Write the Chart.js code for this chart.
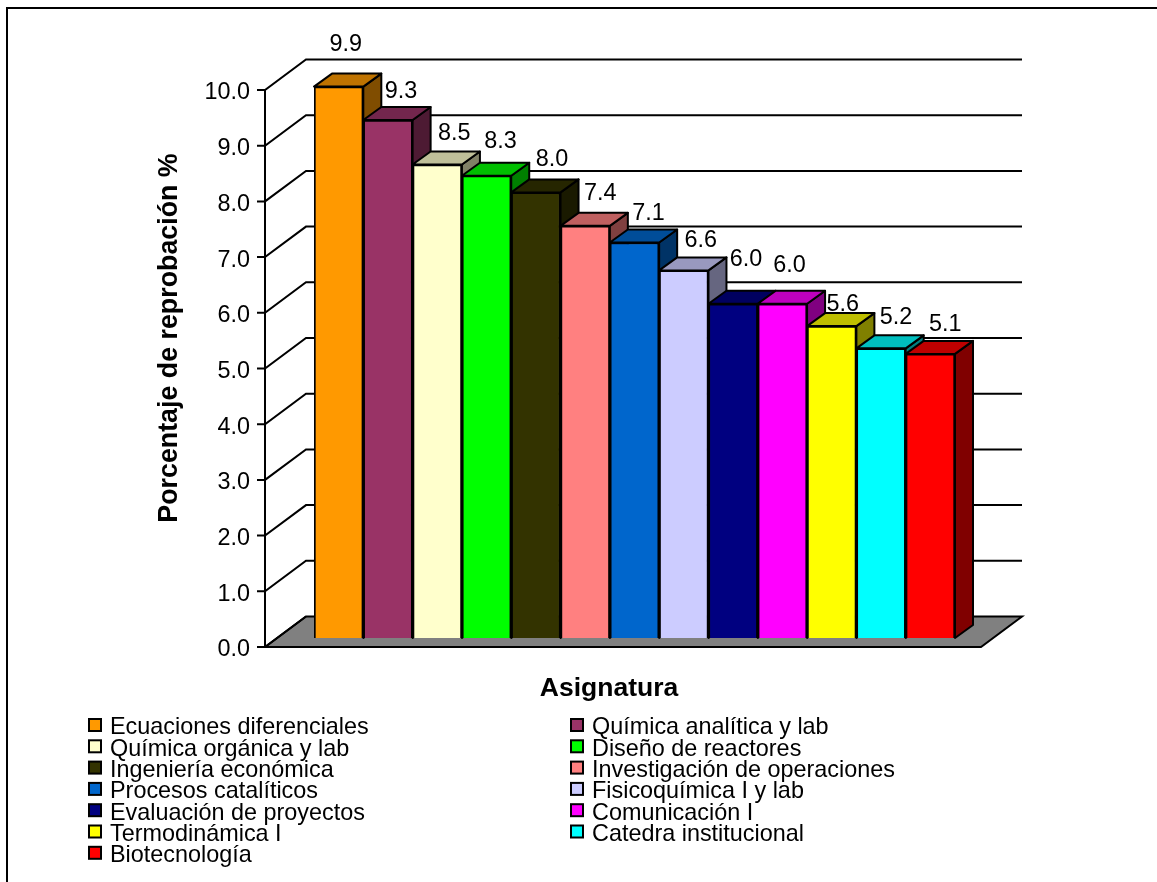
<!DOCTYPE html>
<html lang="es">
<head>
<meta charset="utf-8">
<title>Porcentaje de reprobación por asignatura</title>
<script src="https://cdn.jsdelivr.net/npm/chart.js@4/dist/chart.umd.min.js"></script>
<style>
  html, body { margin: 0; padding: 0; background: #fff; overflow: hidden; }
  canvas { display: block; }
</style>
</head>
<body>
<canvas id="grafico" width="1157" height="882"></canvas>
<script>
const asignaturas = [
    'Ecuaciones diferenciales', 'Química analítica y lab', 'Química orgánica y lab',
    'Diseño de reactores', 'Ingeniería económica', 'Investigación de operaciones',
    'Procesos catalíticos', 'Fisicoquímica I y lab', 'Evaluación de proyectos',
    'Comunicación I', 'Termodinámica I', 'Catedra institucional', 'Biotecnología'
];
const reprobacion = [9.9, 9.3, 8.5, 8.3, 8.0, 7.4, 7.1, 6.6, 6.0, 6.0, 5.6, 5.2, 5.1];
const colores = [
    '#FF9900', '#993366', '#FFFFCC', '#00FF00', '#333300', '#FF8080', '#0066CC',
    '#CCCCFF', '#000080', '#FF00FF', '#FFFF00', '#00FFFF', '#FF0000'
];

// ajuste manual de cada etiqueta de valor respecto al centro y tope de su barra
const ajusteEtiquetaX = [7, 13, 17, 14, 16, 15, 14, 17, 13, 7, 11, 15, 15];
const ajusteEtiquetaY = [-42, -28, -31, -34, -33, -32, -29, -30, -44, -38, -22, -31, -29];

const FUENTE = '"Liberation Sans", Arial, sans-serif';
const PARED_DX = 41, PARED_DY = -30.5;   // fondo del piso respecto al eje frontal
const EJE_X = 265, PISO_DER = 981;
const EJE_DY = -3;                       // las marcas quedan algo arriba del texto de la escala
const PLANO_DY = -12;                    // plano de las barras respecto a la escala
const PROF_DX = 18, PROF_DY = -13;       // profundidad de cada barra

function sombra(hex, f) {
    const n = parseInt(hex.slice(1), 16);
    const r = Math.round((n >> 16) * f), g = Math.round(((n >> 8) & 255) * f), b = Math.round((n & 255) * f);
    return `rgb(${r},${g},${b})`;
}

function poligono(ctx, puntos, relleno) {
    ctx.beginPath();
    puntos.forEach((p, i) => i ? ctx.lineTo(p[0], p[1]) : ctx.moveTo(p[0], p[1]));
    ctx.closePath();
    ctx.fillStyle = relleno;
    ctx.fill();
    ctx.stroke();
}

const grafico3d = {
    id: 'grafico3d',
    beforeDraw(chart) {
        const ctx = chart.ctx;
        ctx.save();
        ctx.strokeStyle = '#000';
        ctx.lineWidth = 2;
        ctx.beginPath();
        ctx.moveTo(7, 882);
        ctx.lineTo(7, 8);
        ctx.lineTo(1157, 8);
        ctx.stroke();
        ctx.restore();
    },
    beforeDatasetsDraw(chart) {
        const ctx = chart.ctx, y = chart.scales.y;
        const y0 = y.getPixelForValue(0) + EJE_DY, y10 = y.getPixelForValue(10) + EJE_DY;
        ctx.save();
        ctx.strokeStyle = '#000';
        ctx.lineWidth = 2;

        // piso gris
        poligono(ctx, [
            [EJE_X, y0], [EJE_X + PARED_DX, y0 + PARED_DY],
            [PISO_DER + PARED_DX, y0 + PARED_DY], [PISO_DER, y0]
        ], '#808080');

        // rejilla, diagonales y marcas del eje
        y.ticks.forEach(t => {
            const py = y.getPixelForValue(t.value) + EJE_DY;
            ctx.beginPath();
            ctx.moveTo(EJE_X - 8, py);
            ctx.lineTo(EJE_X, py);
            ctx.lineTo(EJE_X + PARED_DX, py + PARED_DY);
            if (t.value > 0) ctx.lineTo(PISO_DER + PARED_DX, py + PARED_DY);
            ctx.stroke();
        });
        ctx.beginPath();
        ctx.moveTo(EJE_X, y0);
        ctx.lineTo(EJE_X, y10);
        ctx.stroke();

        // tapas y costados, de izquierda a derecha
        const meta = chart.getDatasetMeta(0);
        ctx.lineJoin = 'round';
        meta.data.forEach((bar, i) => {
            const izq = bar.x - bar.width / 2, der = bar.x + bar.width / 2;
            const tope = bar.y + PLANO_DY, base = bar.base + PLANO_DY;
            poligono(ctx, [
                [der, tope], [der + PROF_DX, tope + PROF_DY],
                [der + PROF_DX, base + PROF_DY], [der, base]
            ], sombra(colores[i], 0.5));
            poligono(ctx, [
                [izq, tope], [izq + PROF_DX, tope + PROF_DY],
                [der + PROF_DX, tope + PROF_DY], [der, tope]
            ], sombra(colores[i], 0.75));
        });
        ctx.restore();

        ctx.save();
        ctx.translate(0, PLANO_DY);
    },
    afterDatasetsDraw(chart) {
        const ctx = chart.ctx;
        ctx.restore();
        ctx.save();

        // valores sobre las barras
        ctx.fillStyle = '#000';
        ctx.font = '23.4px ' + FUENTE;
        ctx.textAlign = 'center';
        ctx.textBaseline = 'middle';
        chart.getDatasetMeta(0).data.forEach((bar, i) => {
            ctx.fillText(reprobacion[i].toFixed(1), bar.x + ajusteEtiquetaX[i], bar.y + PLANO_DY + ajusteEtiquetaY[i]);
        });

        // titulos de los ejes
        ctx.font = 'bold 26.5px ' + FUENTE;
        ctx.fillText('Asignatura', 609, 689);
        ctx.save();
        ctx.font = 'bold 26.8px ' + FUENTE;
        ctx.translate(170, 338);
        ctx.rotate(-Math.PI / 2);
        ctx.fillText('Porcentaje de reprobación %', 0, 0);
        ctx.restore();

        // leyenda en dos columnas
        ctx.font = '23.4px ' + FUENTE;
        ctx.textAlign = 'left';
        ctx.strokeStyle = '#000';
        ctx.lineWidth = 2;
        asignaturas.forEach((nombre, i) => {
            const col = i % 2, fila = Math.floor(i / 2);
            const lx = col ? 571 : 89, ly = 725 + fila * 21.3;
            ctx.fillStyle = colores[i];
            ctx.fillRect(lx, ly - 6, 12, 12);
            ctx.strokeRect(lx, ly - 6, 12, 12);
            ctx.fillStyle = '#000';
            ctx.fillText(nombre, lx + 21, ly + 3);
        });
        ctx.restore();
    }
};

new Chart(document.getElementById('grafico'), {
    type: 'bar',
    data: {
        labels: asignaturas,
        datasets: [{
            data: reprobacion,
            backgroundColor: colores,
            borderColor: '#000',
            borderWidth: 2,
            barPercentage: 1,
            categoryPercentage: 1
        }]
    },
    options: {
        responsive: false,
        animation: false,
        layout: { padding: { left: 0, top: 93, right: 202, bottom: 232 } },
        plugins: { legend: { display: false }, tooltip: { enabled: false } },
        scales: {
            x: { display: false },
            y: {
                min: 0,
                max: 10,
                afterFit(scale) { scale.width = 314; },
                grid: { display: false },
                border: { display: false },
                ticks: {
                    stepSize: 1,
                    padding: 56,
                    color: '#000',
                    font: { family: FUENTE, size: 23.4 },
                    callback: v => v.toFixed(1)
                }
            }
        }
    },
    plugins: [grafico3d]
});
</script>
</body>
</html>
